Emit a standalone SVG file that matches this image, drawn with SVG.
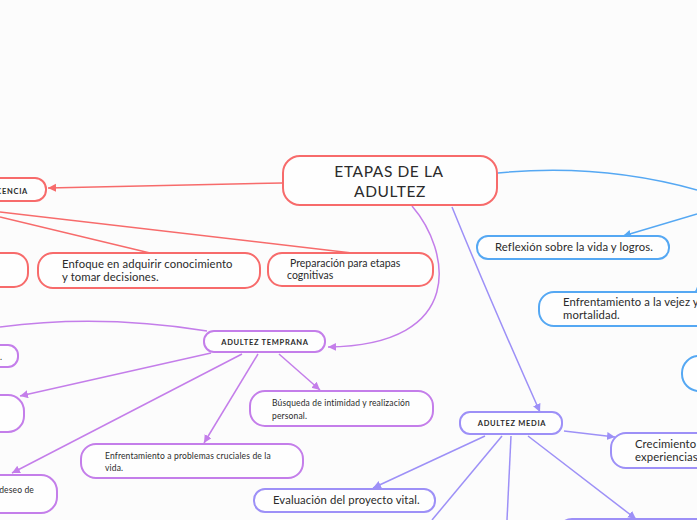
<svg xmlns="http://www.w3.org/2000/svg" width="697" height="520" viewBox="0 0 697 520">
<style>
text{font-family:Lato,"Noto Sans","Liberation Sans",sans-serif;fill:#2b2b2b}
.n{fill:#fefefe;stroke-width:2}
.r{stroke:#f76b6b}
.b{stroke:#55a8f3}
.p{stroke:#c47eea}
.m{stroke:#9d90f7}
.c{fill:none;stroke-width:1.5}
.t{font-size:11.3px;letter-spacing:0.1px}
.s{font-size:8.5px;letter-spacing:0.15px}
.h{font-size:7.5px;font-weight:bold;letter-spacing:0.7px}
</style>
<defs>
<marker id="ar" markerUnits="userSpaceOnUse" markerWidth="10" markerHeight="10" refX="8" refY="4" orient="auto"><path d="M0,0 L8,4 L0,8 z" fill="#f76b6b"/></marker>
<marker id="ab" markerUnits="userSpaceOnUse" markerWidth="10" markerHeight="10" refX="8" refY="4" orient="auto"><path d="M0,0 L8,4 L0,8 z" fill="#55a8f3"/></marker>
<marker id="ap" markerUnits="userSpaceOnUse" markerWidth="10" markerHeight="10" refX="8" refY="4" orient="auto"><path d="M0,0 L8,4 L0,8 z" fill="#c47eea"/></marker>
<marker id="am" markerUnits="userSpaceOnUse" markerWidth="10" markerHeight="10" refX="8" refY="4" orient="auto"><path d="M0,0 L8,4 L0,8 z" fill="#9d90f7"/></marker>
</defs>
<rect width="697" height="520" fill="#fcfcfc"/>
<g id="connectors">
<path class="c r" d="M283,183 L48,188" marker-end="url(#ar)"/>
<path class="c r" d="M0,217 L150,253"/>
<path class="c r" d="M0,212 L352,253"/>
<path class="c b" d="M498,173 Q600,163 697,190"/>
<path class="c b" d="M697,214 L623,236" marker-end="url(#ab)"/>
<path class="c b" d="M706,282 L695,292" marker-end="url(#ab)"/>
<path class="c p" d="M412,206 C450,250 468,345 328,347" marker-end="url(#ap)"/>
<path class="c p" d="M0,327 Q100,314 207,331"/>
<path class="c p" d="M211,353 L20,396" marker-end="url(#ap)"/>
<path class="c p" d="M242,354 L12,473" marker-end="url(#ap)"/>
<path class="c p" d="M258,354 L204,443" marker-end="url(#ap)"/>
<path class="c p" d="M279,354 L320,390" marker-end="url(#ap)"/>
<path class="c m" d="M452,207 Q490,300 540,412" marker-end="url(#am)"/>
<path class="c m" d="M564,431 L615,437" marker-end="url(#am)"/>
<path class="c m" d="M485,436 L373,488" marker-end="url(#am)"/>
<path class="c m" d="M502,436 L432,520"/>
<path class="c m" d="M511,436 L507,520"/>
<path class="c m" d="M528,436 L636,519" marker-end="url(#am)"/>
</g>
<g id="central"><rect class="n r" x="283" y="156" width="214" height="49" rx="17"/><text x="389" y="177" text-anchor="middle" font-size="15.5" letter-spacing="0.6">ETAPAS DE LA</text><text x="390" y="197" text-anchor="middle" font-size="15.5" letter-spacing="0.6">ADULTEZ</text></g>
<g id="adolescencia"><rect class="n r" x="-20" y="178" width="66" height="23" rx="11"/><text class="h" x="28" y="194" text-anchor="end">ADOLESCENCIA</text></g>
<g id="red-left"><rect class="n r" x="-30" y="253" width="58" height="34" rx="14"/></g>
<g id="enfoque"><rect class="n r" x="38" y="253" width="222" height="35" rx="15"/><text class="t" x="62" y="268">Enfoque en adquirir conocimiento</text><text class="t" x="62" y="281">y tomar decisiones.</text></g>
<g id="preparacion"><rect class="n r" x="268" y="253" width="165" height="33" rx="14"/><text x="290" y="267" font-size="10.5">Preparación para etapas</text><text x="287" y="279" font-size="10.5">cognitivas</text></g>
<g id="reflexion"><rect class="n b" x="477" y="236" width="192" height="23" rx="11"/><text class="t" x="495" y="251">Reflexión sobre la vida y logros.</text></g>
<g id="vejez"><rect class="n b" x="539" y="292" width="200" height="34" rx="15"/><text class="t" x="563" y="306">Enfrentamiento a la vejez y</text><text class="t" x="563" y="319">mortalidad.</text></g>
<g id="blue-right"><rect class="n b" x="682" y="356" width="60" height="35" rx="17"/></g>
<g id="temprana"><rect class="n p" x="204" y="331" width="121" height="21" rx="10"/><text class="h" x="265" y="344.5" text-anchor="middle">ADULTEZ TEMPRANA</text></g>
<g id="purple-left-1"><rect class="n p" x="-30" y="345" width="48" height="22" rx="10"/><text class="s" x="0" y="360">.</text></g>
<g id="purple-left-2"><rect class="n p" x="-40" y="395" width="64" height="37" rx="16"/></g>
<g id="deseo"><rect class="n p" x="-60" y="475" width="117" height="38" rx="16"/><text class="s" x="34" y="493" text-anchor="end">deseo de</text></g>
<g id="problemas"><rect class="n p" x="81" y="444" width="222" height="34" rx="15"/><text class="s" x="105" y="459">Enfrentamiento a problemas cruciales de la</text><text class="s" x="105" y="471">vida.</text></g>
<g id="busqueda"><rect class="n p" x="250" y="391" width="183" height="35" rx="15"/><text class="s" x="272" y="406">Búsqueda de intimidad y realización</text><text class="s" x="272" y="419">personal.</text></g>
<g id="media"><rect class="n m" x="460" y="412" width="102" height="22" rx="10"/><text class="h" x="512" y="426" text-anchor="middle">ADULTEZ MEDIA</text></g>
<g id="crecimiento"><rect class="n m" x="611" y="433" width="120" height="35" rx="15"/><text class="t" x="635" y="448">Crecimiento</text><text class="t" x="635" y="461">experiencias</text></g>
<g id="evaluacion"><rect class="n m" x="254" y="489" width="181" height="23" rx="11"/><text class="t" x="273" y="504">Evaluación del proyecto vital.</text></g>
<g id="media-bottom"><rect class="n m" x="558" y="519" width="160" height="30" rx="14"/></g>
</svg>
